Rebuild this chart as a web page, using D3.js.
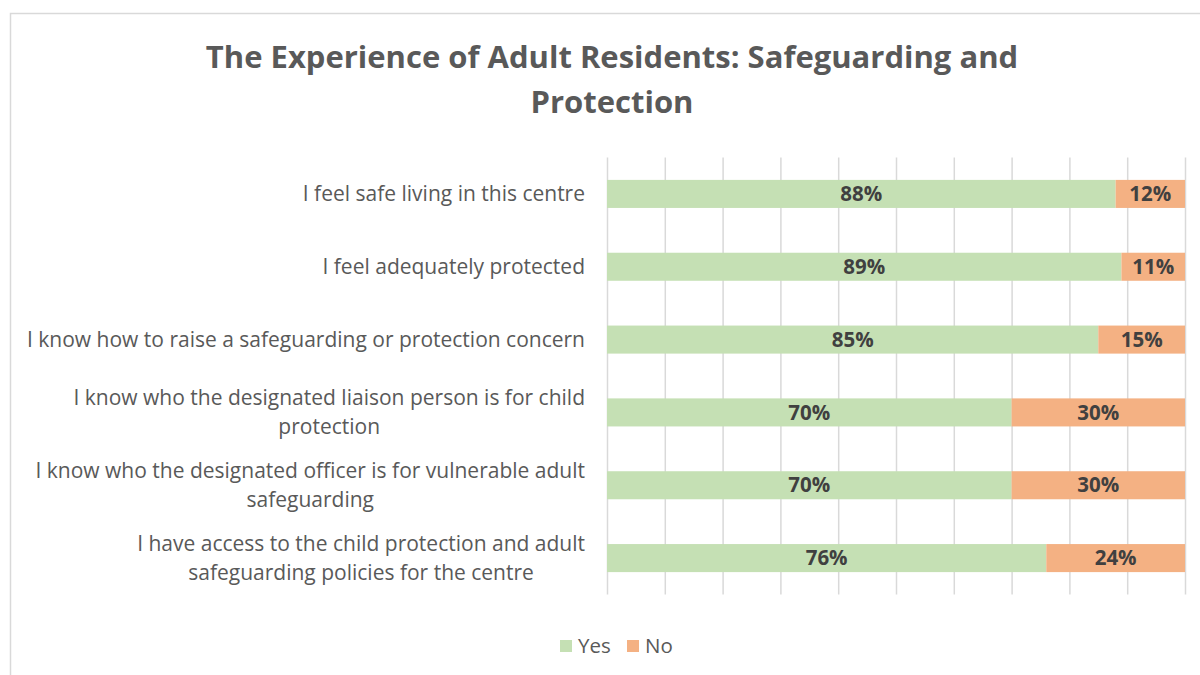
<!DOCTYPE html>
<html>
<head>
<meta charset="utf-8">
<script src="https://cdn.jsdelivr.net/npm/d3@7"></script>
<style>
  html, body { margin: 0; padding: 0; background: #fff; }
  svg { display: block; }
  text { font-family: "Open Sans", "Noto Sans", sans-serif; }
</style>
</head>
<body>
<svg id="chart" width="1200" height="675"></svg>
<script>
// Survey statements, top to bottom
const categories = [
  "I feel safe living in this centre",
  "I feel adequately protected",
  "I know how to raise a safeguarding or protection concern",
  "I know who the designated liaison person is for child protection",
  "I know who the designated officer is for vulnerable adult safeguarding",
  "I have access to the child protection and adult safeguarding policies for the centre"
];
const yesValues = [88, 89, 85, 70, 70, 76];
const noValues  = [12, 11, 15, 30, 30, 24];
const seriesNames = ["Yes", "No"];
const xTicks = [0, 10, 20, 30, 40, 50, 60, 70, 80, 90, 100];
const titleLines = ["The Experience of Adult Residents: Safeguarding and", "Protection"];

const colors = { Yes: "#c5e0b4", No: "#f4b183" };
const textGrey = "#595959";
const labelDark = "#404040";
const fontSize = 21;

const svg = d3.select("#chart");
const W = 1200, H = 675;
const plot = { left: 607, right: 1185, top: 157.5, bottom: 594.5 };

// Outer chart frame
svg.append("rect")
  .attr("x", 10.5).attr("y", 13.5)
  .attr("width", W + 20).attr("height", H + 20)
  .attr("fill", "#fff").attr("stroke", "#d9d9d9").attr("stroke-width", 1.5);

// Title
svg.append("g").selectAll("text")
  .data(titleLines)
  .join("text")
  .attr("x", 612)
  .attr("y", (d, i) => 68 + i * 45)
  .attr("text-anchor", "middle")
  .attr("font-size", 31)
  .attr("font-weight", 700)
  .attr("fill", textGrey)
  .text(d => d);

const x = d3.scaleLinear().domain([0, 100]).range([plot.left, plot.right]);
const y = d3.scaleBand().domain(categories).range([plot.top, plot.bottom]).paddingInner(0.615).paddingOuter(0.3075);

// Vertical gridlines
svg.append("g")
  .attr("transform", `translate(0,${plot.bottom})`)
  .call(d3.axisBottom(x).tickValues(xTicks).tickSize(plot.bottom - plot.top).tickFormat(""))
  .call(g => g.select(".domain").remove())
  .call(g => g.selectAll(".tick line")
    .attr("y2", -(plot.bottom - plot.top))
    .attr("stroke", "#d9d9d9").attr("stroke-width", 1.5));

// Stacked series
const rows = categories.map((c, i) => ({ category: c, Yes: yesValues[i], No: noValues[i] }));
const stacked = d3.stack().keys(seriesNames)(rows);

const layers = svg.append("g").selectAll("g")
  .data(stacked)
  .join("g")
  .attr("fill", d => colors[d.key]);

layers.selectAll("rect")
  .data(d => d)
  .join("rect")
  .attr("x", d => x(d[0]))
  .attr("y", d => y(d.data.category))
  .attr("width", d => x(d[1]) - x(d[0]))
  .attr("height", y.bandwidth());

// Value labels centred in each segment
layers.selectAll("text")
  .data(d => d)
  .join("text")
  .attr("x", d => (x(d[0]) + x(d[1])) / 2)
  .attr("y", d => y(d.data.category) + y.bandwidth() / 2)
  .attr("dy", "0.35em")
  .attr("text-anchor", "middle")
  .attr("font-size", 20.5)
  .attr("font-weight", 700)
  .attr("fill", labelDark)
  .text(d => (d[1] - d[0]) + "%");

// Category labels, wrapped to a fixed width and centred on each band
const labelRight = 585, wrapWidth = 570, lineH = 29;
const labelG = svg.append("g");
const measure = svg.append("text").attr("font-size", fontSize).attr("visibility", "hidden");
function wrap(str) {
  const words = str.split(" ");
  const lines = [];
  let cur = "";
  words.forEach(w => {
    const test = cur ? cur + " " + w : w;
    measure.text(test);
    if (measure.node().getComputedTextLength() > wrapWidth && cur) {
      lines.push(cur); cur = w;
    } else cur = test;
  });
  lines.push(cur);
  return lines;
}
categories.forEach(c => {
  const lines = wrap(c);
  const widths = lines.map(l => { measure.text(l); return measure.node().getComputedTextLength(); });
  const maxW = d3.max(widths);
  const cy = y(c) + y.bandwidth() / 2;
  lines.forEach((l, i) => {
    labelG.append("text")
      .attr("x", labelRight - maxW / 2)
      .attr("y", cy + (i - (lines.length - 1) / 2) * lineH)
      .attr("dy", "0.35em")
      .attr("text-anchor", "middle")
      .attr("font-size", fontSize)
      .attr("fill", textGrey)
      .text(l);
  });
});
measure.remove();

// Legend
const legend = svg.append("g").attr("transform", "translate(560,646)");
const legendX = [0, 67];
seriesNames.forEach((s, i) => {
  const g = legend.append("g").attr("transform", `translate(${legendX[i]},0)`);
  g.append("rect").attr("x", 0).attr("y", -6).attr("width", 12).attr("height", 12).attr("fill", colors[s]);
  g.append("text").attr("x", 18).attr("y", 0).attr("dy", "0.35em")
    .attr("font-size", 20.5).attr("fill", textGrey).text(s);
});
</script>
</body>
</html>
